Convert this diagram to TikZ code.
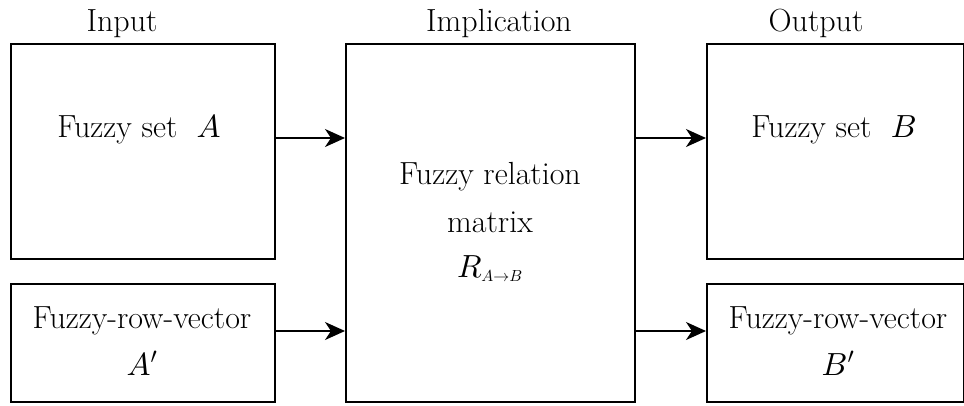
\documentclass[tikz,border=0pt]{standalone}
\usetikzlibrary{arrows.meta}
% scalable math fonts for large display sizes
\DeclareFontShape{OML}{cmm}{m}{it}{<->cmmi10}{}
\DeclareFontShape{OMS}{cmsy}{m}{n}{<->cmsy10}{}
\begin{document}
\begin{tikzpicture}[x=1pt,y=-1pt,
  blk/.style={draw,line width=1.6pt,inner sep=0pt,anchor=north west},
  txt/.style={anchor=base,inner sep=0pt,font=\fontsize{32}{38}\selectfont},
  ttl/.style={anchor=base,inner sep=0pt,font=\fontsize{32}{38}\selectfont},
  arr/.style={line width=1.6pt,-{Stealth[length=20pt,width=18pt,inset=6pt]}}]
\useasboundingbox (0,0) rectangle (964,405);
% boxes
\node[blk,minimum width=264pt,minimum height=215pt] (inA)  at (10,43) {};
\node[blk,minimum width=264pt,minimum height=118pt] (inAp) at (10,283) {};
\node[blk,minimum width=289pt,minimum height=358pt] (impl) at (345,43) {};
\node[blk,minimum width=257pt,minimum height=215pt] (outB) at (706,43) {};
\node[blk,minimum width=257pt,minimum height=118pt] (outBp) at (706,283) {};
% column titles
\node[ttl] (tin)   at (122,31) {Input};
\node[ttl] (timp)  at (499,31) {Implication};
\node[ttl] (tout)  at (816,31) {Output};
% box contents
\node[txt] (la)  at (139,137) {Fuzzy set\ \ $A$};
\node[txt] (lap) at (142,328) {Fuzzy-row-vector};
\node[txt] (lapm) at (142,375) {$A'$};
\node[txt] (lr1) at (490,184) {Fuzzy relation};
\node[txt] (lr2) at (490,232) {matrix};
\node[txt] (lr3) at (490,277) {$R_{\scriptscriptstyle A\to B}$};
\node[txt] (lb)  at (834,137) {Fuzzy set\ \ $B$};
\node[txt] (lbp) at (838,328) {Fuzzy-row-vector};
\node[txt] (lbpm) at (838,375) {$B'$};
% connectors
\coordinate (ya) at (0,138);
\coordinate (yb) at (0,331);
\draw[arr] (inA.east |- ya) -- (impl.west |- ya);
\draw[arr] (inAp.east |- yb) -- (impl.west |- yb);
\draw[arr] (impl.east |- ya) -- (outB.west |- ya);
\draw[arr] (impl.east |- yb) -- (outBp.west |- yb);
\end{tikzpicture}
\end{document}
